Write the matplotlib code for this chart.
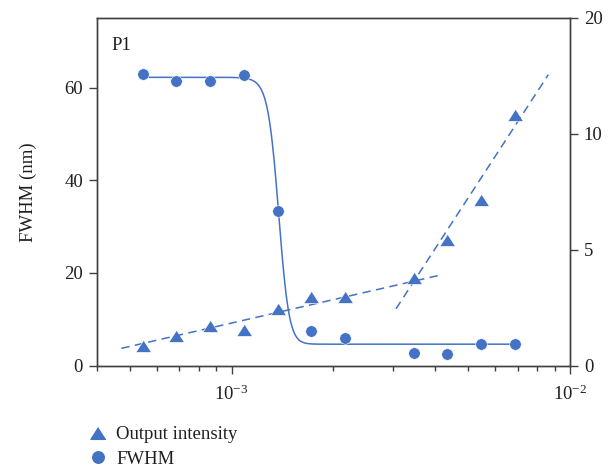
import numpy as np
import matplotlib
matplotlib.use("Agg")
import matplotlib.pyplot as plt
from matplotlib.ticker import FixedLocator, FixedFormatter, LogLocator, NullFormatter
from matplotlib.lines import Line2D

plt.rcParams['font.family'] = ['Liberation Serif', 'DejaVu Serif']
plt.rcParams['mathtext.fontset'] = 'custom'
plt.rcParams['mathtext.rm'] = 'Liberation Serif'

# ---- data ----
x_vals = [5.47e-4, 6.87e-4, 8.65e-4, 1.09e-3, 1.375e-3, 1.72e-3, 2.17e-3,
          3.45e-3, 4.33e-3, 5.45e-3, 6.87e-3]
fwhm = [62.9, 61.4, 61.4, 62.7, 33.3, 7.4, 5.9, 2.8, 2.5, 4.6, 4.7]
intensity = [2.81, 2.99, 3.16, 3.09, 3.51, 3.77, 3.77, 4.21, 5.31, 6.72, 11.2]

# Boltzmann fit parameters for FWHM
fit_top = 62.2
fit_bottom = 4.6
fit_x0 = 1.375e-3
fit_dx = 0.05e-3

# power-law fit line endpoints (output intensity)
fit1_x = [4.72e-4, 4.16e-3]
fit1_y = [2.77, 4.30]
fit2_x = [3.06e-3, 8.63e-3]
fit2_y = [3.51, 14.25]

right_ticks = [2.5, 5, 10, 20]
right_labels = ['0', '5', '10', '20']
left_ticks = [0, 20, 40, 60]
x_ticks = [1e-3, 1e-2]
x_labels = [r'$\mathregular{10^{-3}}$', r'$\mathregular{10^{-2}}$']

blue = '#4472C4'
spine_col = '#404040'
text_col = '#231f20'

fig = plt.figure(figsize=(6.16, 4.72), dpi=100)
ax = fig.add_axes([97/616, 1-365.5/472, (570-97)/616, (365.5-18)/472])
ax2 = ax.twinx()

# FWHM fit curve
xc = np.logspace(np.log10(x_vals[0]), np.log10(x_vals[-1]), 600)
yc = fit_bottom + (fit_top - fit_bottom) / (1 + np.exp((xc - fit_x0) / fit_dx))
ax.plot(xc, yc, color=blue, lw=1.1, zorder=2)
ax.plot(x_vals, fwhm, 'o', color=blue, ms=8.3, mec='white', mew=0.4, zorder=3)

tri = [(0, 0.78), (-1, -0.78), (1, -0.78)]
ax2.plot(fit1_x, fit1_y, color=blue, lw=1.1, ls=(0, (5.5, 3.5)))
ax2.plot(fit2_x, fit2_y, color=blue, lw=1.1, ls=(0, (5.5, 3.5)))
ax2.plot(x_vals, intensity, ls='none', marker=tri, color=blue, ms=10.8, mec='white', mew=0.4)

ax.set_xscale('log')
ax.set_xlim(4e-4, 1e-2)
ax.set_ylim(0, 75)
ax.set_yticks(left_ticks)
ax.set_ylabel('FWHM (nm)', fontsize=13.5, labelpad=20, color=text_col)

ax2.set_yscale('log', base=2)
ax2.set_ylim(2.5, 20)
ax2.yaxis.set_major_locator(FixedLocator(right_ticks))
ax2.yaxis.set_major_formatter(FixedFormatter(right_labels))
ax2.yaxis.set_minor_locator(FixedLocator([]))

ax.xaxis.set_major_locator(FixedLocator(x_ticks))
ax.xaxis.set_major_formatter(FixedFormatter(x_labels))
ax.xaxis.set_minor_locator(LogLocator(base=10, subs=np.arange(2, 10), numticks=20))
ax.xaxis.set_minor_formatter(NullFormatter())

for a in (ax, ax2):
    for s in a.spines.values():
        s.set_color(spine_col)
        s.set_linewidth(1.0)
    a.tick_params(axis='both', which='major', direction='out', length=6, width=1.0,
                  color=spine_col, labelsize=13.5, labelcolor=text_col, pad=4)
    a.tick_params(axis='both', which='minor', direction='out', length=3.5, width=1.0,
                  color=spine_col)
ax.tick_params(axis='x', pad=8)

ax.text(0.03, 0.945, 'P1', transform=ax.transAxes, fontsize=13.5, color=text_col,
        va='top', ha='left')

# legend
h1 = Line2D([], [], ls='none', marker=tri, color=blue, ms=10.8)
h2 = Line2D([], [], ls='none', marker='o', color=blue, ms=8.3)
leg = fig.legend([h1, h2], ['Output intensity', 'FWHM'], loc='upper left',
                 bbox_to_anchor=(89/616, 1-426/472), frameon=False, fontsize=13.5,
                 handlelength=1.0, handletextpad=0.44, labelspacing=0.41, borderpad=0,
                 borderaxespad=0)
for t in leg.get_texts():
    t.set_color(text_col)

fig.savefig('out.png', dpi=100)
